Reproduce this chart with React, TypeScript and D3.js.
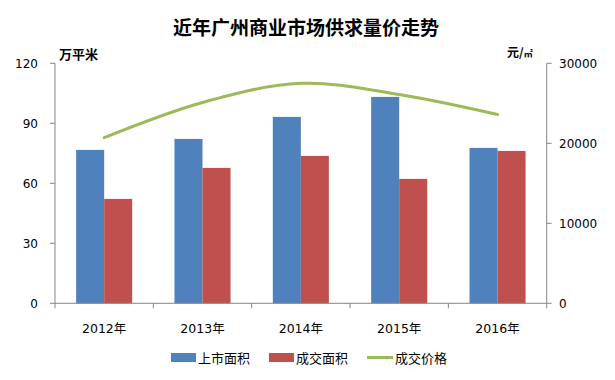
import React from "react";
import * as d3 from "d3";

const years = ["2012年", "2013年", "2014年", "2015年", "2016年"];
const supplyArea = [76.7, 82.2, 93.2, 103.2, 77.7];
const dealArea = [52.2, 67.7, 73.7, 62.2, 76.2];
const dealPrice = [20700, 25100, 27500, 26100, 23600];
const leftTicks = [0, 30, 60, 90, 120];
const rightTicks = [0, 10000, 20000, 30000];
const seriesNames = ["上市面积", "成交面积", "成交价格"];

const W = 615, H = 380;
const left = 55, right = 546.7, top = 63.3, bottom = 303.3;
const BLUE = "#4F81BD", RED = "#C0504D", GREEN = "#9BBB59", AXIS = "#868686";
const FONT = "'DejaVu Sans', 'Noto Sans CJK SC', sans-serif";
const CJK = "'Noto Sans CJK SC', sans-serif";

export default function App() {
  const x = d3.scaleBand<string>().domain(years).range([left, right]).paddingInner(0).paddingOuter(0);
  const bw = x.bandwidth();
  const barW = bw * 0.285;
  const yL = d3.scaleLinear().domain([0, 120]).range([bottom, top]);
  const yR = d3.scaleLinear().domain([0, 30000]).range([bottom, top]);
  const line = d3
    .line<number>()
    .x((_, i) => (x(years[i]) as number) + bw / 2)
    .y((d) => yR(d))
    .curve(d3.curveCatmullRom.alpha(0.5));

  return (
    <svg width={W} height={H} style={{ position: "absolute", left: 0, top: 0, background: "#fff" }}>
      <text x={306} y={35} textAnchor="middle" fontFamily={CJK} fontWeight="bold" fontSize={19} fill="#000">
        近年广州商业市场供求量价走势
      </text>
      <text x={59} y={59} fontFamily={CJK} fontWeight="bold" fontSize={13} fill="#000">万平米</text>
      <text x={507} y={57} fontFamily={CJK} fontWeight="bold" fontSize={12} fill="#000">
        元/<tspan fontSize={9}>㎡</tspan>
      </text>

      {years.map((yr, i) => {
        const cx = (x(yr) as number) + bw / 2;
        return (
          <g key={yr}>
            <rect x={cx - barW} y={yL(supplyArea[i])} width={barW} height={bottom - yL(supplyArea[i])} fill={BLUE} />
            <rect x={cx} y={yL(dealArea[i])} width={barW} height={bottom - yL(dealArea[i])} fill={RED} />
          </g>
        );
      })}

      <path d={line(dealPrice) || ""} fill="none" stroke={GREEN} strokeWidth={3} strokeLinecap="round" />

      {/* left axis */}
      <line x1={left} x2={left} y1={top} y2={bottom} stroke={AXIS} strokeWidth={1} />
      {leftTicks.map((t) => (
        <g key={t}>
          <line x1={left - 5} x2={left} y1={yL(t)} y2={yL(t)} stroke={AXIS} />
          <text x={38} y={yL(t) + 4.5} textAnchor="end" fontFamily={FONT} fontSize={12} fill="#000">{t}</text>
        </g>
      ))}
      {/* right axis */}
      <line x1={right} x2={right} y1={top} y2={bottom} stroke={AXIS} strokeWidth={1} />
      {rightTicks.map((t) => (
        <g key={t}>
          <line x1={right} x2={right + 5} y1={yR(t)} y2={yR(t)} stroke={AXIS} />
          <text x={559} y={yR(t) + 4.5} textAnchor="start" fontFamily={FONT} fontSize={12} fill="#000">{t}</text>
        </g>
      ))}
      {/* x axis */}
      <line x1={left} x2={right} y1={bottom} y2={bottom} stroke={AXIS} />
      {[...years.map((yr) => x(yr) as number), right].map((px, i) => (
        <line key={i} x1={px} x2={px} y1={bottom} y2={bottom + 5} stroke={AXIS} />
      ))}
      {years.map((yr) => (
        <text key={yr} x={(x(yr) as number) + bw / 2} y={333} textAnchor="middle" fontFamily={FONT} fontSize={12.5} fill="#000">
          {yr}
        </text>
      ))}

      {/* legend */}
      <rect x={171} y={353} width={25} height={9} fill={BLUE} />
      <text x={198} y={362.5} fontFamily={CJK} fontSize={13} fill="#000">{seriesNames[0]}</text>
      <rect x={269} y={353} width={25} height={9} fill={RED} />
      <text x={296} y={362.5} fontFamily={CJK} fontSize={13} fill="#000">{seriesNames[1]}</text>
      <line x1={367} x2={393} y1={357.5} y2={357.5} stroke={GREEN} strokeWidth={3} />
      <text x={395} y={362.5} fontFamily={CJK} fontSize={13} fill="#000">{seriesNames[2]}</text>
    </svg>
  );
}
